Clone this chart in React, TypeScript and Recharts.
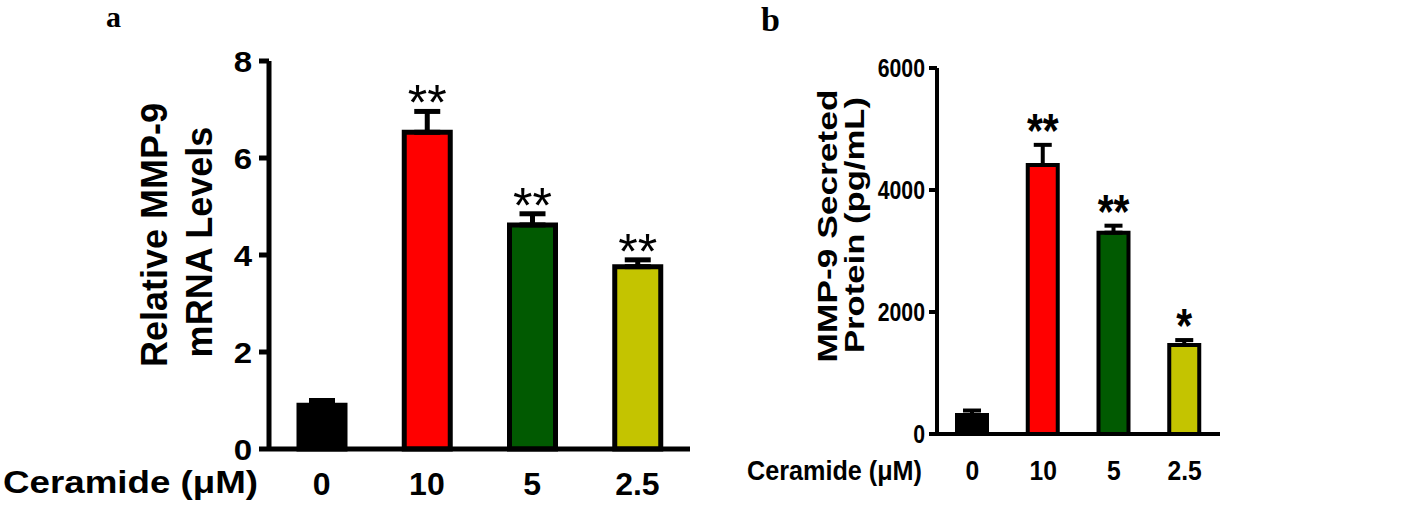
import { BarChart, Bar, XAxis, YAxis, ErrorBar, Cell, LabelList } from 'recharts';

const FONT = '"Liberation Sans", Arial, Helvetica, sans-serif';
const SERIF = '"Liberation Serif", "Times New Roman", serif';

const categories = ['0', '10', '5', '2.5'];
const barColors = ['#000000', '#ff0000', '#015a01', '#c4c400'];

// panel a: relative MMP-9 mRNA
const mrnaMean = [0.9, 6.53, 4.62, 3.76];
const mrnaErr = [0.1, 0.43, 0.23, 0.14];
const mrnaStars = ['', '**', '**', '**'];
const mrnaTicks = [0, 2, 4, 6, 8];

// panel b: secreted MMP-9 protein
const proteinMean = [310, 4410, 3300, 1460];
const proteinErr = [75, 330, 115, 80];
const proteinStars = ['', '**', '**', '*'];
const proteinTicks = [0, 2000, 4000, 6000];

const xTitle = 'Ceramide (μM)';
const mrnaTitle = ['Relative MMP-9', 'mRNA Levels'];
const proteinTitle = ['MMP-9 Secreted', 'Protein (pg/mL)'];

interface TitleLine {
  text: string;
  x: number;
  y: number;
  length?: number;
}

interface PanelProps {
  left: number;
  width: number;
  height: number;
  means: number[];
  errs: number[];
  stars: string[];
  ticks: number[];
  margin: { top: number; right: number; bottom: number; left: number };
  yAxisWidth: number;
  xAxisHeight: number;
  barSize: number;
  line: number;
  capHalf: number;
  yTickSize: number;
  yTickMargin: number;
  yTickFont: number;
  yTickScale: number;
  xTickFont: number;
  xTickScale: number;
  xTickDy: number;
  starFont: number;
  starBold: boolean;
  starScale: number;
  starGap: number;
  titleFont: number;
  titleLines: TitleLine[];
  xTitleX: number;
  xTitleY: number;
  xTitleFont: number;
  xTitleLength: number;
}

const Panel = (p: PanelProps) => {
  const rows = categories.map((name, i) => ({
    name,
    mean: p.means[i],
    err: [0, p.errs[i]],
    idx: i,
  }));

  const yTick = (props: any) => (
    <g transform={`translate(${props.x},${props.y}) scale(${p.yTickScale},1)`}>
      <text x={0} y={0} dy="0.355em" textAnchor="end" fontFamily={FONT} fontWeight="bold" fontSize={p.yTickFont} fill="#000">
        {props.payload.value}
      </text>
    </g>
  );

  const xTick = (props: any) => (
    <g transform={`translate(${props.x},${props.y}) scale(${p.xTickScale},1)`}>
      <text x={0} y={p.xTickDy} textAnchor="middle" fontFamily={FONT} fontWeight="bold" fontSize={p.xTickFont} fill="#000">
        {props.payload.value}
      </text>
    </g>
  );

  const yTitle = (props: any) => {
    const vb = props.viewBox || { x: 0 };
    return (
      <g>
        {p.titleLines.map((l) => (
          <text
            key={l.text}
            transform={`translate(${vb.x + l.x},${l.y}) rotate(-90)`}
            textAnchor="middle"
            fontFamily={FONT}
            fontWeight="bold"
            fontSize={p.titleFont}
            fill="#000"
            textLength={l.length}
            lengthAdjust={l.length ? 'spacingAndGlyphs' : undefined}
          >
            {l.text}
          </text>
        ))}
      </g>
    );
  };

  const xTitleLabel = () => (
    <text
      x={p.xTitleX}
      y={p.xTitleY}
      textAnchor="start"
      fontFamily={FONT}
      fontWeight="bold"
      fontSize={p.xTitleFont}
      fill="#000"
      textLength={p.xTitleLength}
      lengthAdjust="spacingAndGlyphs"
    >
      {xTitle}
    </text>
  );

  // stars sit just above each error-bar cap
  const starLabel = (props: any) => {
    const idx = props.value;
    const s = p.stars[idx];
    if (!s) return null;
    const vb = props.viewBox || props;
    const { x, y, width, height } = vb;
    const errPx = (p.errs[idx] / p.means[idx]) * height;
    const cx = x + width / 2;
    const by = y - errPx + p.starGap;
    return (
      <g transform={`translate(${cx},${by}) scale(${p.starScale},1)`}>
        <text x={0} y={0} textAnchor="middle" fontFamily={FONT} fontWeight={p.starBold ? 'bold' : 'normal'} fontSize={p.starFont} fill="#000">
          {s}
        </text>
      </g>
    );
  };

  return (
    <div style={{ position: 'absolute', left: p.left, top: 0 }}>
      <BarChart width={p.width} height={p.height} data={rows} margin={p.margin}>
        <XAxis
          dataKey="name"
          height={p.xAxisHeight}
          axisLine={{ stroke: '#000', strokeWidth: p.line }}
          tickLine={false}
          tickSize={0}
          tickMargin={0}
          interval={0}
          tick={xTick}
          label={{ content: xTitleLabel }}
        />
        <YAxis
          width={p.yAxisWidth}
          domain={[p.ticks[0], p.ticks[p.ticks.length - 1]]}
          ticks={p.ticks}
          interval={0}
          axisLine={{ stroke: '#000', strokeWidth: p.line }}
          tickLine={{ stroke: '#000', strokeWidth: p.line }}
          tickSize={p.yTickSize}
          tickMargin={p.yTickMargin}
          tick={yTick}
          label={{ content: yTitle }}
        />
        <Bar dataKey="mean" barSize={p.barSize} stroke="#000" strokeWidth={p.line} isAnimationActive={false}>
          {rows.map((r) => (
            <Cell key={r.name} fill={barColors[r.idx]} />
          ))}
          <ErrorBar dataKey="err" direction="y" width={p.capHalf} stroke="#000" strokeWidth={p.line} isAnimationActive={false} />
          <LabelList dataKey="idx" content={starLabel} />
        </Bar>
      </BarChart>
    </div>
  );
};

export default function App() {
  return (
    <div style={{ position: 'absolute', left: 0, top: 0, width: 1418, height: 507, background: '#fff' }}>
      <Panel
        left={0}
        width={700}
        height={507}
        means={mrnaMean}
        errs={mrnaErr}
        stars={mrnaStars}
        ticks={mrnaTicks}
        margin={{ top: 61, right: 10, bottom: 0, left: 0 }}
        yAxisWidth={269}
        xAxisHeight={58}
        barSize={46}
        line={5}
        capHalf={13}
        yTickSize={10}
        yTickMargin={7}
        yTickFont={30}
        yTickScale={1.1}
        xTickFont={32}
        xTickScale={1}
        xTickDy={46}
        starFont={50}
        starBold={false}
        starScale={1}
        starGap={9}
        titleFont={36}
        titleLines={[
          { text: mrnaTitle[0], x: 167, y: 235 },
          { text: mrnaTitle[1], x: 212, y: 242 },
        ]}
        xTitleX={3}
        xTitleY={493}
        xTitleFont={32}
        xTitleLength={255}
      />
      <Panel
        left={700}
        width={718}
        height={507}
        means={proteinMean}
        errs={proteinErr}
        stars={proteinStars}
        ticks={proteinTicks}
        margin={{ top: 68, right: 198, bottom: 0, left: 0 }}
        yAxisWidth={237}
        xAxisHeight={73}
        barSize={30}
        line={4}
        capHalf={9}
        yTickSize={8}
        yTickMargin={4}
        yTickFont={25}
        yTickScale={0.85}
        xTickFont={28}
        xTickScale={0.88}
        xTickDy={46}
        starFont={48}
        starBold={true}
        starScale={0.85}
        starGap={2}
        titleFont={28}
        titleLines={[
          { text: proteinTitle[0], x: 137, y: 226, length: 273 },
          { text: proteinTitle[1], x: 164, y: 225, length: 256 },
        ]}
        xTitleX={47}
        xTitleY={480}
        xTitleFont={28}
        xTitleLength={175}
      />
      <svg width={1418} height={507} style={{ position: 'absolute', left: 0, top: 0, pointerEvents: 'none' }}>
        <text x={106} y={27} fontFamily={SERIF} fontWeight="bold" fontSize={30} fill="#000">a</text>
        <text x={761} y={31} fontFamily={SERIF} fontWeight="bold" fontSize={34} fill="#000">b</text>
      </svg>
    </div>
  );
}
